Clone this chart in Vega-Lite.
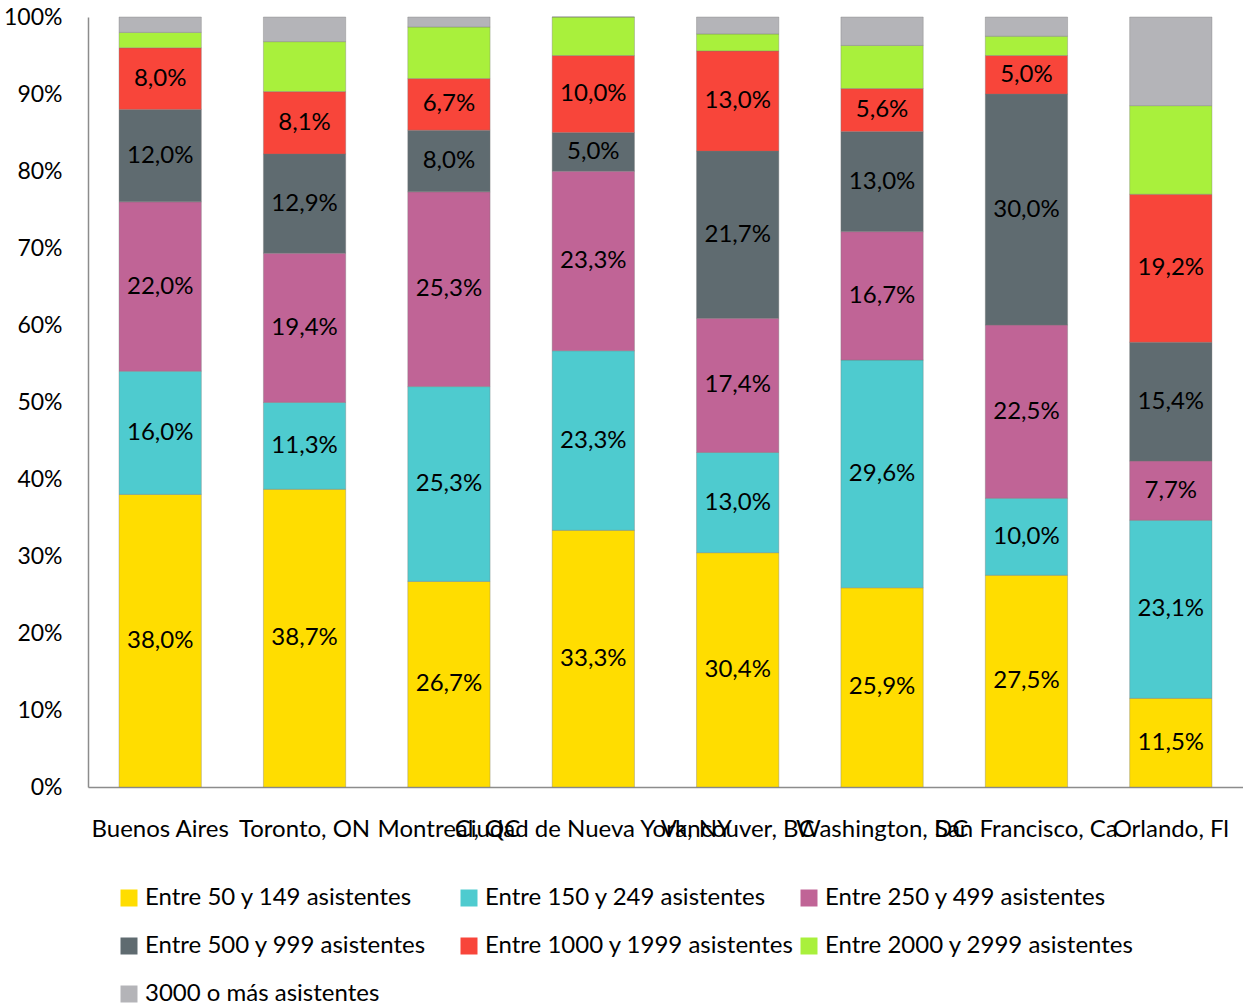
{
  "$schema": "https://vega.github.io/schema/vega-lite/v6.json",
  "autosize": {"type": "none"},
  "padding": {"left": 88, "top": 17, "right": 0, "bottom": 221},
  "width": 1155,
  "height": 770,
  "background": "white",
  "config": {
    "locale": {"number": {"decimal": ",", "thousands": ".", "grouping": [3], "currency": ["", " €"]}},
    "font": "Lato",
    "view": {"stroke": null}
  },
  "data": {
    "values": [
      {"ciudad": "Buenos Aires", "tamano": "Entre 50 y 149 asistentes", "pct": 0.380},
      {"ciudad": "Buenos Aires", "tamano": "Entre 150 y 249 asistentes", "pct": 0.160},
      {"ciudad": "Buenos Aires", "tamano": "Entre 250 y 499 asistentes", "pct": 0.220},
      {"ciudad": "Buenos Aires", "tamano": "Entre 500 y 999 asistentes", "pct": 0.120},
      {"ciudad": "Buenos Aires", "tamano": "Entre 1000 y 1999 asistentes", "pct": 0.080},
      {"ciudad": "Buenos Aires", "tamano": "Entre 2000 y 2999 asistentes", "pct": 0.020},
      {"ciudad": "Buenos Aires", "tamano": "3000 o más asistentes", "pct": 0.020},
      {"ciudad": "Toronto, ON", "tamano": "Entre 50 y 149 asistentes", "pct": 0.387},
      {"ciudad": "Toronto, ON", "tamano": "Entre 150 y 249 asistentes", "pct": 0.113},
      {"ciudad": "Toronto, ON", "tamano": "Entre 250 y 499 asistentes", "pct": 0.194},
      {"ciudad": "Toronto, ON", "tamano": "Entre 500 y 999 asistentes", "pct": 0.129},
      {"ciudad": "Toronto, ON", "tamano": "Entre 1000 y 1999 asistentes", "pct": 0.081},
      {"ciudad": "Toronto, ON", "tamano": "Entre 2000 y 2999 asistentes", "pct": 0.065},
      {"ciudad": "Toronto, ON", "tamano": "3000 o más asistentes", "pct": 0.032},
      {"ciudad": "Montreal, QC", "tamano": "Entre 50 y 149 asistentes", "pct": 0.267},
      {"ciudad": "Montreal, QC", "tamano": "Entre 150 y 249 asistentes", "pct": 0.253},
      {"ciudad": "Montreal, QC", "tamano": "Entre 250 y 499 asistentes", "pct": 0.253},
      {"ciudad": "Montreal, QC", "tamano": "Entre 500 y 999 asistentes", "pct": 0.080},
      {"ciudad": "Montreal, QC", "tamano": "Entre 1000 y 1999 asistentes", "pct": 0.067},
      {"ciudad": "Montreal, QC", "tamano": "Entre 2000 y 2999 asistentes", "pct": 0.067},
      {"ciudad": "Montreal, QC", "tamano": "3000 o más asistentes", "pct": 0.013},
      {"ciudad": "Ciudad de Nueva York, NY", "tamano": "Entre 50 y 149 asistentes", "pct": 0.333},
      {"ciudad": "Ciudad de Nueva York, NY", "tamano": "Entre 150 y 249 asistentes", "pct": 0.233},
      {"ciudad": "Ciudad de Nueva York, NY", "tamano": "Entre 250 y 499 asistentes", "pct": 0.233},
      {"ciudad": "Ciudad de Nueva York, NY", "tamano": "Entre 500 y 999 asistentes", "pct": 0.050},
      {"ciudad": "Ciudad de Nueva York, NY", "tamano": "Entre 1000 y 1999 asistentes", "pct": 0.100},
      {"ciudad": "Ciudad de Nueva York, NY", "tamano": "Entre 2000 y 2999 asistentes", "pct": 0.050},
      {"ciudad": "Ciudad de Nueva York, NY", "tamano": "3000 o más asistentes", "pct": 0.000},
      {"ciudad": "Vancouver, BC", "tamano": "Entre 50 y 149 asistentes", "pct": 0.304},
      {"ciudad": "Vancouver, BC", "tamano": "Entre 150 y 249 asistentes", "pct": 0.130},
      {"ciudad": "Vancouver, BC", "tamano": "Entre 250 y 499 asistentes", "pct": 0.174},
      {"ciudad": "Vancouver, BC", "tamano": "Entre 500 y 999 asistentes", "pct": 0.217},
      {"ciudad": "Vancouver, BC", "tamano": "Entre 1000 y 1999 asistentes", "pct": 0.130},
      {"ciudad": "Vancouver, BC", "tamano": "Entre 2000 y 2999 asistentes", "pct": 0.022},
      {"ciudad": "Vancouver, BC", "tamano": "3000 o más asistentes", "pct": 0.022},
      {"ciudad": "Washington, DC", "tamano": "Entre 50 y 149 asistentes", "pct": 0.259},
      {"ciudad": "Washington, DC", "tamano": "Entre 150 y 249 asistentes", "pct": 0.296},
      {"ciudad": "Washington, DC", "tamano": "Entre 250 y 499 asistentes", "pct": 0.167},
      {"ciudad": "Washington, DC", "tamano": "Entre 500 y 999 asistentes", "pct": 0.130},
      {"ciudad": "Washington, DC", "tamano": "Entre 1000 y 1999 asistentes", "pct": 0.056},
      {"ciudad": "Washington, DC", "tamano": "Entre 2000 y 2999 asistentes", "pct": 0.056},
      {"ciudad": "Washington, DC", "tamano": "3000 o más asistentes", "pct": 0.037},
      {"ciudad": "San Francisco, Ca", "tamano": "Entre 50 y 149 asistentes", "pct": 0.275},
      {"ciudad": "San Francisco, Ca", "tamano": "Entre 150 y 249 asistentes", "pct": 0.100},
      {"ciudad": "San Francisco, Ca", "tamano": "Entre 250 y 499 asistentes", "pct": 0.225},
      {"ciudad": "San Francisco, Ca", "tamano": "Entre 500 y 999 asistentes", "pct": 0.300},
      {"ciudad": "San Francisco, Ca", "tamano": "Entre 1000 y 1999 asistentes", "pct": 0.050},
      {"ciudad": "San Francisco, Ca", "tamano": "Entre 2000 y 2999 asistentes", "pct": 0.025},
      {"ciudad": "San Francisco, Ca", "tamano": "3000 o más asistentes", "pct": 0.025},
      {"ciudad": "Orlando, Fl", "tamano": "Entre 50 y 149 asistentes", "pct": 0.115},
      {"ciudad": "Orlando, Fl", "tamano": "Entre 150 y 249 asistentes", "pct": 0.231},
      {"ciudad": "Orlando, Fl", "tamano": "Entre 250 y 499 asistentes", "pct": 0.077},
      {"ciudad": "Orlando, Fl", "tamano": "Entre 500 y 999 asistentes", "pct": 0.154},
      {"ciudad": "Orlando, Fl", "tamano": "Entre 1000 y 1999 asistentes", "pct": 0.192},
      {"ciudad": "Orlando, Fl", "tamano": "Entre 2000 y 2999 asistentes", "pct": 0.115},
      {"ciudad": "Orlando, Fl", "tamano": "3000 o más asistentes", "pct": 0.115}
    ]
  },
  "transform": [
    {"calculate": "indexof(['Entre 50 y 149 asistentes', 'Entre 150 y 249 asistentes', 'Entre 250 y 499 asistentes', 'Entre 500 y 999 asistentes', 'Entre 1000 y 1999 asistentes', 'Entre 2000 y 2999 asistentes', '3000 o más asistentes'], datum.tamano)", "as": "orden"}
  ],
  "encoding": {
    "x": {
      "field": "ciudad", "type": "nominal", "sort": null,
      "scale": {"paddingInner": 0.43, "paddingOuter": 0.215},
      "axis": {
        "title": null, "labelAngle": 0, "labelOverlap": false, "labelLimit": 0,
        "labelFontSize": 24, "labelColor": "black", "labelPadding": 30,
        "ticks": false, "domainColor": "#8c8c8c", "domainWidth": 1.5
      }
    },
    "y": {
      "field": "pct", "type": "quantitative", "stack": "normalize",
      "scale": {"domain": [0, 1], "nice": false},
      "axis": {
        "title": null, "format": ".0%", "values": [0, 0.1, 0.2, 0.3, 0.4, 0.5, 0.6, 0.7, 0.8, 0.9, 1],
        "labelFontSize": 23, "labelColor": "black", "labelPadding": 26,
        "ticks": false, "grid": false, "domainColor": "#8c8c8c", "domainWidth": 1.5
      }
    },
    "order": {"field": "orden", "type": "quantitative", "sort": "ascending"},
    "color": {
      "field": "tamano", "type": "nominal",
      "scale": {
        "domain": ["Entre 50 y 149 asistentes", "Entre 150 y 249 asistentes", "Entre 250 y 499 asistentes", "Entre 500 y 999 asistentes", "Entre 1000 y 1999 asistentes", "Entre 2000 y 2999 asistentes", "3000 o más asistentes"],
        "range": ["#FFDD00", "#4ECBCF", "#C06496", "#5F6B70", "#F8453A", "#A9F03C", "#B4B4B8"]
      },
      "legend": {
        "title": null, "orient": "none", "legendX": 29, "legendY": 869,
        "direction": "horizontal", "columns": 3, "gridAlign": "all",
        "columnPadding": 2, "rowPadding": 24,
        "symbolType": "square", "symbolSize": 289, "symbolStrokeWidth": 0,
        "labelFontSize": 24, "labelColor": "black", "labelOffset": 4, "labelLimit": 0
      }
    }
  },
  "layer": [
    {"mark": {"type": "bar", "stroke": "#777777", "strokeWidth": 0.6, "strokeOpacity": 0.6}},
    {
      "mark": {"type": "text", "fontSize": 24, "baseline": "middle", "align": "center"},
      "encoding": {
        "y": {"field": "pct", "type": "quantitative", "stack": "normalize", "bandPosition": 0.5},
        "fill": {"value": "black"},
        "text": {
          "condition": {
            "test": "datum.tamano != 'Entre 2000 y 2999 asistentes' && datum.tamano != '3000 o más asistentes'",
            "field": "pct", "type": "quantitative", "format": ".1%"
          },
          "value": ""
        }
      }
    }
  ]
}
